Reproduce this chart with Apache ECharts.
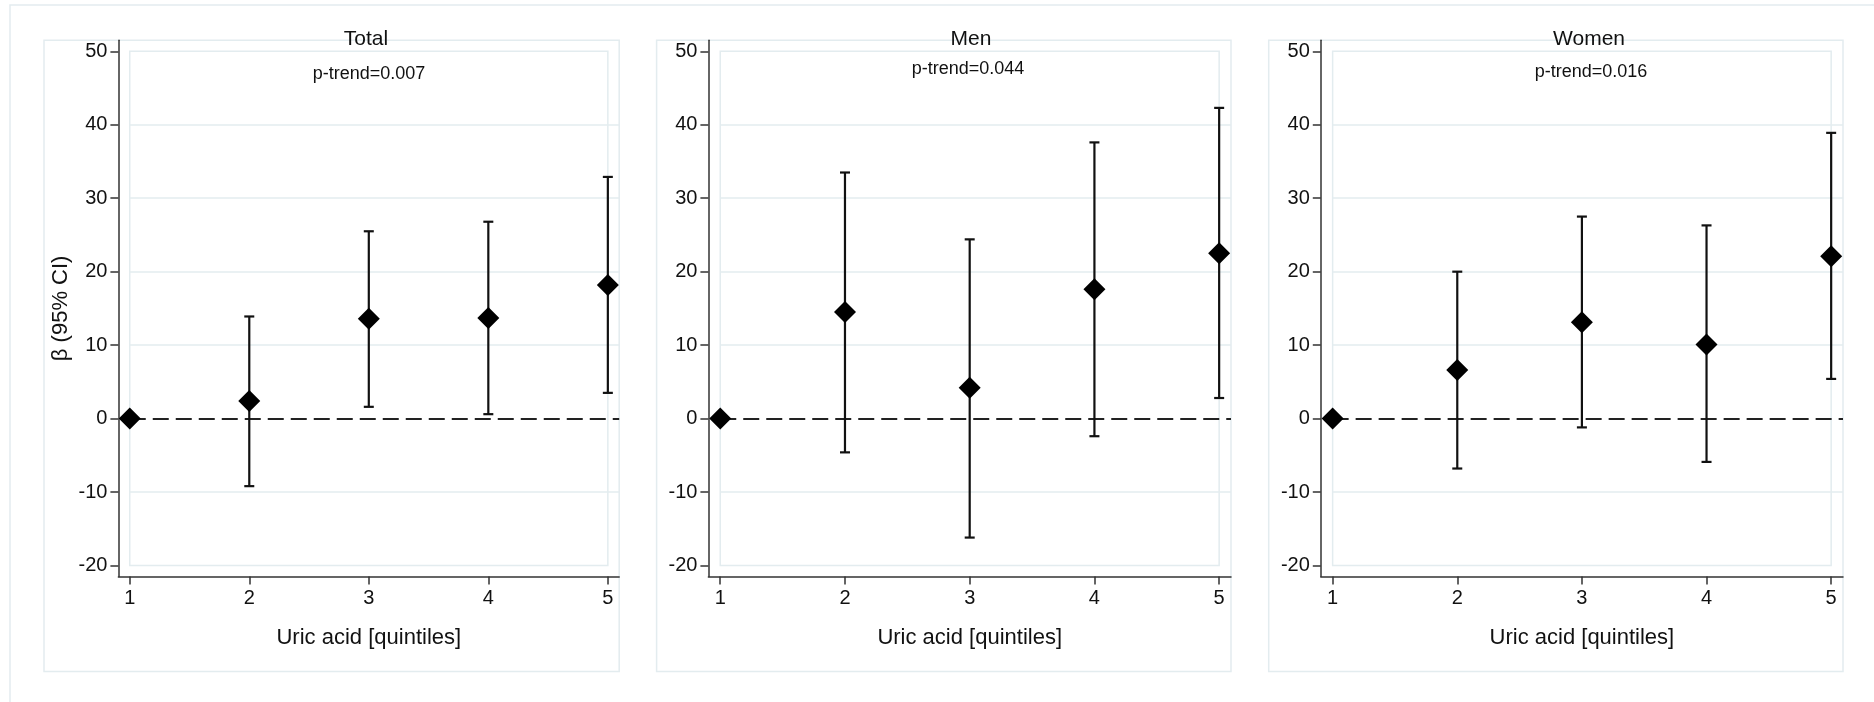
<!DOCTYPE html>
<html>
<head>
<meta charset="utf-8">
<title>Uric acid quintiles</title>
<script src="https://cdn.jsdelivr.net/npm/echarts@6/dist/echarts.min.js"></script>
<style>
html, body { margin: 0; padding: 0; background: #fff; }
#chart { width: 1874px; height: 702px; }
</style>
</head>
<body>
<div id="chart"></div>
<script>
// data
var quintiles = [1, 2, 3, 4, 5];
var panelTitles = ["Total", "Men", "Women"];
var pTrends = ["p-trend=0.007", "p-trend=0.044", "p-trend=0.016"];
var yTicks = [-20, -10, 0, 10, 20, 30, 40, 50];
var gridValues = [-10, 10, 20, 30, 40];

var totalBeta = [0, 2.4, 13.6, 13.7, 18.2];
var totalLow = [null, -9.2, 1.6, 0.6, 3.5];
var totalHigh = [null, 13.9, 25.5, 26.8, 32.9];

var menBeta = [0, 14.5, 4.2, 17.6, 22.5];
var menLow = [null, -4.6, -16.2, -2.4, 2.8];
var menHigh = [null, 33.5, 24.4, 37.6, 42.3];

var womenBeta = [0, 6.6, 13.1, 10.1, 22.1];
var womenLow = [null, -6.8, -1.2, -5.9, 5.4];
var womenHigh = [null, 20.0, 27.5, 26.3, 38.9];

var FONT = "'Liberation Sans', Arial, Helvetica, sans-serif";
var INK = "#111";
var LIGHT = "#e3ecef";
var TOP = 40.3, HEIGHT = 536.2, BOX_BOTTOM = 671.5;
var X_MIN = 0.905, X_MAX = 5.095, Y_MIN = -21.5, Y_MAX = 51.5;

var panels = [
  { beta: totalBeta, low: totalLow, high: totalHigh, left: 118.4, width: 500.8, boxLeft: 44, titleX: 366, ptX: 369, ptY: 74 },
  { beta: menBeta, low: menLow, high: menHigh, left: 708.4, width: 522.6, boxLeft: 656.6, titleX: 971, ptX: 968, ptY: 69.5 },
  { beta: womenBeta, low: womenLow, high: womenHigh, left: 1320.8, width: 522.2, boxLeft: 1268.7, titleX: 1589, ptX: 1591, ptY: 71.6 }
];

function renderErrorBar(params, api) {
  var x = api.value(0);
  var top = api.coord([x, api.value(2)]);
  var bot = api.coord([x, api.value(1)]);
  var cap = 5;
  var style = { stroke: INK, lineWidth: 2.2 };
  return {
    type: "group",
    children: [
      { type: "line", shape: { x1: top[0], y1: top[1], x2: bot[0], y2: bot[1] }, style: style },
      { type: "line", shape: { x1: top[0] - cap, y1: top[1], x2: top[0] + cap, y2: top[1] }, style: style },
      { type: "line", shape: { x1: bot[0] - cap, y1: bot[1], x2: bot[0] + cap, y2: bot[1] }, style: style }
    ]
  };
}

var grids = [], xAxes = [], yAxes = [], series = [];
var graphics = [
  { type: "rect", shape: { x: 10, y: 5, width: 1900, height: 760 }, style: { fill: "none", stroke: LIGHT, lineWidth: 1.5 }, z: 0 }
];

panels.forEach(function (p, i) {
  grids.push({ left: p.left, top: TOP, width: p.width, height: HEIGHT, containLabel: false });

  xAxes.push({
    gridIndex: i, type: "value", min: X_MIN, max: X_MAX,
    axisLine: { show: true, onZero: false, lineStyle: { color: "#333", width: 1.5 } },
    axisTick: { show: true, length: 8, customValues: quintiles, lineStyle: { color: "#333", width: 1.5 } },
    axisLabel: { customValues: quintiles, margin: 12, fontSize: 20, color: INK, fontFamily: FONT },
    splitLine: { show: false },
    name: "Uric acid [quintiles]", nameLocation: "middle", nameGap: 50,
    nameTextStyle: { fontSize: 22, color: INK, fontFamily: FONT }
  });

  yAxes.push({
    gridIndex: i, type: "value", min: Y_MIN, max: Y_MAX,
    axisLine: { show: true, onZero: false, lineStyle: { color: "#333", width: 1.5 } },
    axisTick: { show: true, length: 8, customValues: yTicks, lineStyle: { color: "#333", width: 1.5 } },
    axisLabel: { customValues: yTicks, margin: 11, fontSize: 20, color: INK, fontFamily: FONT },
    splitLine: { show: false },
    name: i === 0 ? "β (95% CI)" : "", nameLocation: "middle", nameGap: 46,
    nameTextStyle: { fontSize: 22, color: INK, fontFamily: FONT }
  });

  var bars = [];
  quintiles.forEach(function (q, k) {
    if (p.low[k] !== null) bars.push([q, p.low[k], p.high[k]]);
  });

  series.push({
    type: "custom", xAxisIndex: i, yAxisIndex: i, z: 4,
    renderItem: renderErrorBar,
    encode: { x: 0, y: [1, 2] },
    data: bars,
    markArea: {
      silent: true, z: 1,
      itemStyle: { color: "rgba(0,0,0,0)", borderColor: LIGHT, borderWidth: 1.5 },
      data: [[{ coord: [1, -20] }, { coord: [5, 50] }]]
    },
    markLine: {
      silent: true, z: 1, symbol: ["none", "none"], label: { show: false },
      lineStyle: { color: LIGHT, width: 1.5, type: "solid" },
      data: gridValues.map(function (v) { return [{ coord: [1, v] }, { coord: [X_MAX, v] }]; })
    }
  });

  series.push({
    type: "scatter", xAxisIndex: i, yAxisIndex: i, z: 5,
    symbol: "diamond", symbolSize: 22,
    itemStyle: { color: "#000", opacity: 1 },
    data: quintiles.map(function (q, k) { return [q, p.beta[k]]; }),
    markLine: {
      silent: true, z: 3, symbol: ["none", "none"], label: { show: false },
      lineStyle: { color: "#222", width: 2, type: [16, 7], opacity: 1 },
      data: [[{ coord: [1, 0] }, { coord: [X_MAX, 0] }]]
    }
  });

  graphics.push({
    type: "rect", z: 0,
    shape: { x: p.boxLeft, y: TOP, width: p.left + p.width - p.boxLeft, height: BOX_BOTTOM - TOP },
    style: { fill: "none", stroke: LIGHT, lineWidth: 1.5 }
  });
  graphics.push({
    type: "text", x: p.titleX, y: 39, z: 10,
    style: { text: panelTitles[i], font: "21px " + FONT, fill: INK, textAlign: "center", textVerticalAlign: "middle" }
  });
  graphics.push({
    type: "text", x: p.ptX, y: p.ptY, z: 10,
    style: { text: pTrends[i], font: "18px " + FONT, fill: INK, textAlign: "center", textVerticalAlign: "middle" }
  });
});

var chart = echarts.init(document.getElementById("chart"));
chart.setOption({
  animation: false,
  backgroundColor: "#fff",
  grid: grids,
  xAxis: xAxes,
  yAxis: yAxes,
  series: series,
  graphic: graphics
});
</script>
</body>
</html>
